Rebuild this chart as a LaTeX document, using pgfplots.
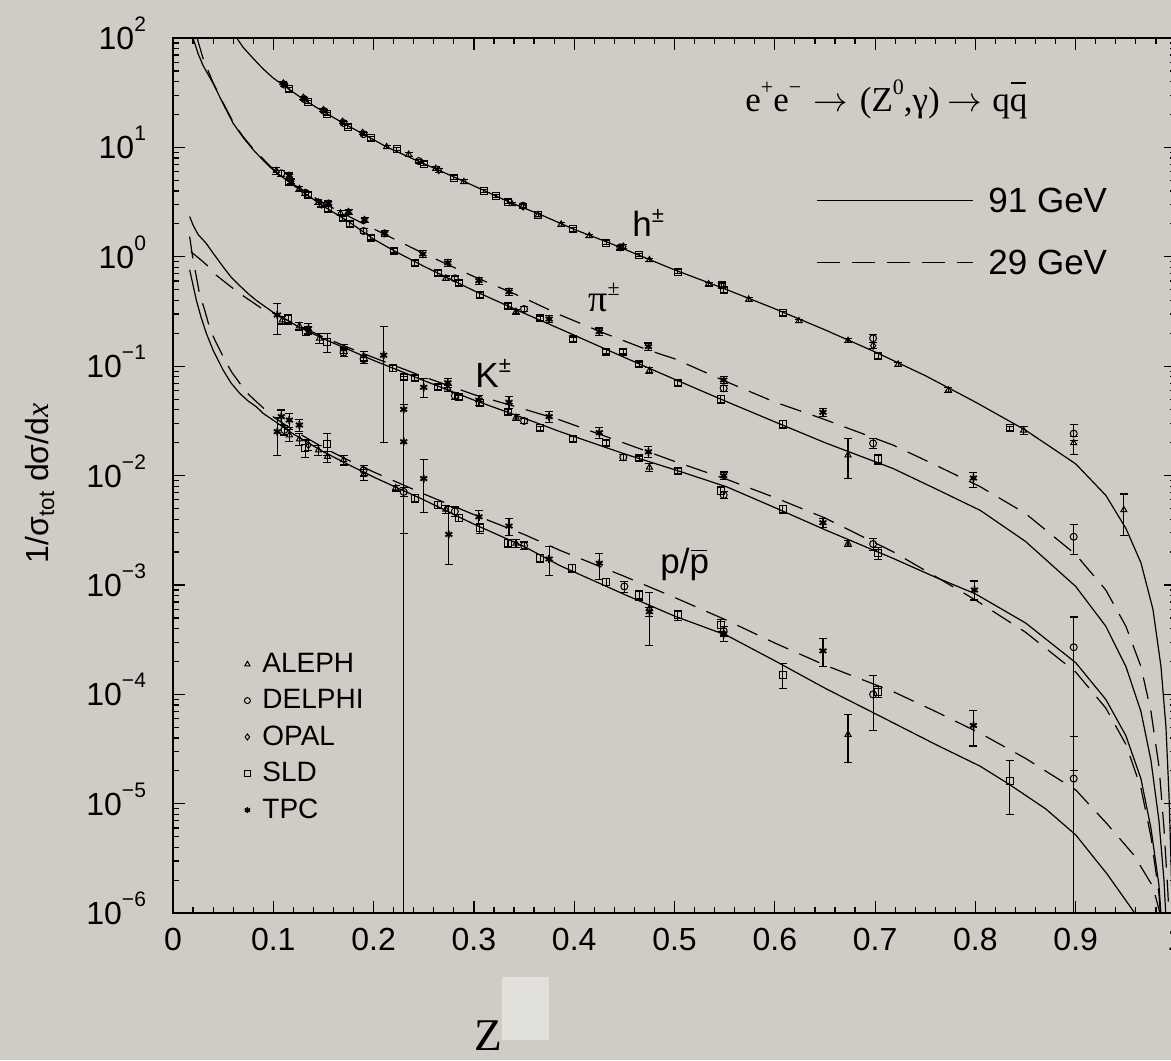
\documentclass[border=0pt]{standalone}
\usepackage{pgfplots}
\pgfplotsset{compat=1.18}
\usepackage{fontspec}
\setmainfont{Liberation Sans}
\newfontfamily\serif{Liberation Serif}
\definecolor{paper}{RGB}{207,204,197}
\definecolor{patch}{RGB}{226,224,219}

% decade label: 10 with a raised exponent in the text font
\newcommand\ytl[1]{10\raisebox{9pt}{\fontsize{10.5}{10.5}\selectfont #1}}
% letter with a bar on top
\newcommand\ovl[2][0.8em]{\ooalign{#2\cr\hidewidth\raisebox{#1}{\rule{0.45em}{0.055em}}\hidewidth\cr}}
\newcommand\rsup[1]{\raisebox{8.5pt}{\fontsize{11}{11}\selectfont #1}}

\pgfplotsset{
  dat/.style={only marks, forget plot, mark size=1.75pt,
    mark options={solid, line width=0.5pt, draw=black, fill=none},
    error bars/y dir=both, error bars/y explicit relative,
    error bars/error bar style={line width=0.55pt, black},
    error bars/error mark options={rotate=90, line width=0.55pt, mark size=2pt}},
  aleph/.style={dat, mark=triangle},
  delphi/.style={dat, mark=o},
  opal/.style={dat, mark=diamond},
  sld/.style={dat, mark=square},
  tpc/.style={dat, mark=asterisk, mark size=2pt, mark options={solid, line width=0.9pt, draw=black}},
  fit91/.style={forget plot, black, solid, line width=0.6pt, no marks},
  fit29/.style={forget plot, black, line width=0.6pt, no marks, dash pattern=on 11pt off 6pt},
  legmark/.style={only marks, mark size=1.5pt, mark options={solid, line width=0.5pt, draw=black, fill=none},
    legend image code/.code={\draw[##1] plot coordinates {(0pt,0pt)};}},
}

\begin{document}
\begin{tikzpicture}
\fill[paper] (-86.5pt,-73.4pt) rectangle (499pt,456.6pt);
\fill[patch] (164.5pt,-63.4pt) rectangle (188pt,-31.9pt);
\begin{axis}[
  scale only axis, width=501.5pt, height=437.6pt,
  xmin=0, xmax=1, ymin=1e-6, ymax=1e2, ymode=log,
  axis line style={line width=0.8pt},
  tick align=inside, major tick length=6pt, minor tick length=3pt,
  every tick/.style={black, line width=0.6pt},
  xtick={0,0.1,0.2,0.3,0.4,0.5,0.6,0.7,0.8,0.9,1},
  xticklabels={0,0.1,0.2,0.3,0.4,0.5,0.6,0.7,0.8,0.9,1},
  minor x tick num=4,
  ytick={1e-6,1e-5,1e-4,1e-3,1e-2,1e-1,1,10,100},
  yticklabels={\ytl{−6},\ytl{−5},\ytl{−4},\ytl{−3},\ytl{−2},\ytl{−1},\ytl{0},\ytl{1},\ytl{2}},
  minor ytick={2e-6,3e-6,4e-6,5e-6,6e-6,7e-6,8e-6,9e-6,
    2e-5,3e-5,4e-5,5e-5,6e-5,7e-5,8e-5,9e-5,
    2e-4,3e-4,4e-4,5e-4,6e-4,7e-4,8e-4,9e-4,
    2e-3,3e-3,4e-3,5e-3,6e-3,7e-3,8e-3,9e-3,
    2e-2,3e-2,4e-2,5e-2,6e-2,7e-2,8e-2,9e-2,
    0.2,0.3,0.4,0.5,0.6,0.7,0.8,0.9,
    2,3,4,5,6,7,8,9,20,30,40,50,60,70,80,90},
  tick label style={font=\fontsize{16}{19}\selectfont},
  xticklabel style={yshift=-4pt},
  yticklabel style={anchor=base east, yshift=-5.75pt, xshift=-10pt},
  legend style={at={(0.0648,0.3044)}, anchor=north west, draw=none, fill=none,
    font=\fontsize{14}{16}\selectfont, row sep=5pt, column sep=5pt,
    nodes={inner sep=1pt}},
  legend cell align=left,
]
\addlegendimage{legmark, mark=triangle}
\addlegendimage{legmark, mark=o}
\addlegendimage{legmark, mark=diamond}
\addlegendimage{legmark, mark=square}
\addlegendimage{legmark, mark=asterisk, mark options={solid, line width=0.8pt, draw=black}}
\legend{ALEPH,DELPHI,OPAL,SLD,TPC}

% ---------- model curves, 91 GeV (solid) ----------
% h
\addplot[fit91] coordinates {(0.0635,100)(0.07,82)(0.08,65)(0.09,52)(0.10,43)(0.11,37)(0.13,27.5)(0.15,21.2)(0.17,16.6)(0.19,13.2)(0.213,10.1)(0.24,7.8)(0.27,5.9)(0.30,4.45)(0.334,3.2)(0.37,2.35)(0.40,1.78)(0.435,1.34)(0.465,1.03)(0.50,0.76)(0.55,0.51)(0.60,0.335)(0.65,0.215)(0.70,0.135)(0.75,0.082)(0.80,0.047)(0.85,0.026)(0.90,0.0128)(0.93,0.0066)(0.95,0.0033)(0.965,0.0016)(0.977,0.0006)(0.985,0.00018)(0.99,5e-5)(0.993,1.2e-5)(0.995,3e-6)(0.997,5e-7)};
% pi
\addplot[fit91] coordinates {(0.02,100)(0.025,72)(0.03,56)(0.04,38.5)(0.05,25)(0.06,16.6)(0.07,12.3)(0.08,9.5)(0.09,7.6)(0.10,6.2)(0.12,4.5)(0.15,2.9)(0.175,2.1)(0.20,1.45)(0.22,1.14)(0.25,0.82)(0.30,0.49)(0.35,0.305)(0.386,0.219)(0.43,0.145)(0.47,0.1)(0.50,0.076)(0.552,0.0474)(0.60,0.031)(0.65,0.02)(0.718,0.0116)(0.76,0.0076)(0.805,0.0048)(0.85,0.0025)(0.90,0.00097)(0.93,0.00042)(0.95,0.00018)(0.965,7e-5)(0.975,2.5e-5)(0.983,7e-6)(0.988,2e-6)(0.992,4e-7)};
% K
\addplot[fit91] coordinates {(0.0166,2.33)(0.02,1.95)(0.025,1.6)(0.033,1.33)(0.04,1.08)(0.05,0.81)(0.058,0.65)(0.066,0.55)(0.075,0.46)(0.083,0.40)(0.10,0.31)(0.125,0.23)(0.15,0.178)(0.175,0.142)(0.20,0.113)(0.25,0.074)(0.30,0.049)(0.35,0.0335)(0.386,0.0252)(0.45,0.0158)(0.503,0.0111)(0.552,0.0079)(0.60,0.0051)(0.65,0.0032)(0.718,0.00175)(0.76,0.00118)(0.80,0.00083)(0.85,0.00045)(0.90,0.000195)(0.93,9e-5)(0.95,4.2e-5)(0.965,1.7e-5)(0.975,6e-6)(0.983,1.8e-6)(0.988,4e-7)};
% p
\addplot[fit91] coordinates {(0.0166,0.76)(0.02,0.55)(0.0233,0.40)(0.028,0.28)(0.0332,0.20)(0.04,0.14)(0.05,0.092)(0.058,0.07)(0.0665,0.0565)(0.075,0.048)(0.083,0.0426)(0.09,0.037)(0.0997,0.0322)(0.12,0.024)(0.15,0.0165)(0.175,0.0126)(0.20,0.0097)(0.25,0.006)(0.30,0.0036)(0.35,0.00225)(0.386,0.0015)(0.45,0.00082)(0.50,0.00052)(0.552,0.000347)(0.60,0.000203)(0.65,0.000114)(0.718,5.5e-5)(0.76,3.5e-5)(0.805,2.2e-5)(0.834,1.5e-5)(0.87,9e-6)(0.90,5.2e-6)(0.931,2.3e-6)(0.959,1e-6)(0.97,6e-7)};

% ---------- model curves, 29 GeV (dashed) ----------
% pi
\addplot[fit29] coordinates {(0.024,100)(0.03,65)(0.04,39)(0.05,25.5)(0.06,17)(0.07,12.5)(0.08,9.7)(0.10,6.3)(0.12,4.6)(0.15,3.1)(0.175,2.35)(0.20,1.8)(0.25,1.07)(0.30,0.66)(0.35,0.42)(0.386,0.294)(0.43,0.2)(0.474,0.14)(0.50,0.117)(0.552,0.072)(0.60,0.047)(0.648,0.033)(0.718,0.019)(0.76,0.0125)(0.805,0.0079)(0.85,0.0045)(0.90,0.0019)(0.93,0.0009)(0.95,0.00042)(0.965,0.00018)(0.975,7e-5)(0.983,2.2e-5)(0.988,6e-6)(0.992,1.5e-6)(0.995,3e-7)};
% K
\addplot[fit29] coordinates {(0.018,1.11)(0.027,0.95)(0.035,0.82)(0.043,0.68)(0.0615,0.50)(0.0715,0.43)(0.09,0.33)(0.10,0.305)(0.125,0.235)(0.15,0.185)(0.175,0.148)(0.20,0.12)(0.25,0.08)(0.30,0.055)(0.35,0.0405)(0.386,0.0322)(0.45,0.0198)(0.50,0.0135)(0.552,0.00925)(0.60,0.0063)(0.65,0.0041)(0.718,0.00201)(0.76,0.0012)(0.80,0.00073)(0.85,0.00037)(0.90,0.00016)(0.93,7.5e-5)(0.95,3.5e-5)(0.965,1.4e-5)(0.975,5e-6)(0.983,1.5e-6)(0.988,3.5e-7)};
% p
\addplot[fit29] coordinates {(0.0166,1.53)(0.02,0.935)(0.0226,0.71)(0.0266,0.45)(0.0306,0.35)(0.0372,0.214)(0.0425,0.168)(0.0525,0.11)(0.059,0.087)(0.073,0.058)(0.0814,0.049)(0.0997,0.0345)(0.12,0.026)(0.15,0.018)(0.175,0.0138)(0.20,0.0108)(0.25,0.0068)(0.30,0.0044)(0.35,0.0029)(0.386,0.00207)(0.45,0.0012)(0.50,0.00077)(0.552,0.000476)(0.60,0.000295)(0.65,0.000185)(0.718,0.000106)(0.76,7e-5)(0.805,4.4e-5)(0.85,2.6e-5)(0.90,1.34e-5)(0.931,6.6e-6)(0.958,3.4e-6)(0.977,1.75e-6)(0.984,1e-6)(0.99,4e-7)};

% ---------- ALEPH ----------
\addplot[aleph] table[x=x,y=y,y error plus=ep,y error minus=em] {
x y ep em
0.213 10.1 0.04 0.04
0.235 8.6 0.04 0.04
0.262 6.4 0.04 0.04
0.290 4.85 0.04 0.04
0.338 3.04 0.04 0.04
0.364 2.41 0.04 0.04
0.387 1.98 0.04 0.04
0.415 1.55 0.04 0.04
0.446 1.20 0.04 0.04
0.475 0.935 0.04 0.04
0.534 0.564 0.04 0.04
0.574 0.408 0.04 0.04
0.624 0.259 0.04 0.04
0.673 0.171 0.04 0.04
0.723 0.104 0.04 0.04
0.773 0.0605 0.05 0.05
0.848 0.0259 0.09 0.09
0.898 0.0199 0.05 0.22
0.948 0.00485 0.40 0.42
};
\addplot[aleph] table[x=x,y=y,y error plus=ep,y error minus=em] {
x y ep em
0.103 6.12 0.08 0.08
0.126 4.17 0.05 0.05
0.145 3.15 0.05 0.05
0.167 2.50 0.05 0.05
0.272 0.636 0.05 0.05
0.342 0.315 0.05 0.05
0.475 0.091 0.06 0.06
0.673 0.0154 0.41 0.39
};
\addplot[aleph] table[x=x,y=y,y error plus=ep,y error minus=em] {
x y ep em
0.109 0.264 0.08 0.08
0.126 0.233 0.08 0.08
0.146 0.18 0.10 0.10
0.190 0.124 0.10 0.10
0.274 0.063 0.06 0.06
0.342 0.034 0.06 0.06
0.475 0.0119 0.08 0.08
0.673 0.0024 0.06 0.06
};
\addplot[aleph] table[x=x,y=y,y error plus=ep,y error minus=em] {
x y ep em
0.116 0.0235 0.12 0.12
0.126 0.0215 0.12 0.12
0.145 0.0171 0.10 0.10
0.154 0.0149 0.12 0.12
0.170 0.0139 0.10 0.10
0.190 0.0102 0.12 0.12
0.222 0.0077 0.06 0.06
0.272 0.0049 0.08 0.08
0.342 0.0024 0.08 0.08
0.475 0.000612 0.39 0.54
0.673 0.000043 0.51 0.44
};

% ---------- DELPHI ----------
\addplot[delphi] table[x=x,y=y,y error plus=ep,y error minus=em] {
x y ep em
0.111 37.5 0.03 0.03
0.131 27.6 0.03 0.03
0.151 21.4 0.03 0.03
0.170 16.7 0.03 0.03
0.190 13.2 0.03 0.03
0.245 7.5 0.04 0.04
0.349 2.93 0.04 0.04
0.446 1.22 0.04 0.04
0.698 0.18 0.08 0.08
0.898 0.0242 0.22 0.05
};
\addplot[delphi] table[x=x,y=y,y error plus=ep,y error minus=em] {
x y ep em
0.108 5.8 0.06 0.06
0.132 3.85 0.05 0.05
0.190 1.72 0.05 0.05
0.281 0.636 0.05 0.05
0.350 0.333 0.05 0.05
0.549 0.0628 0.06 0.06
0.698 0.0197 0.10 0.10
0.898 0.00276 0.30 0.31
};
\addplot[delphi] table[x=x,y=y,y error plus=ep,y error minus=em] {
x y ep em
0.170 0.133 0.08 0.08
0.190 0.116 0.08 0.08
0.281 0.0537 0.08 0.08
0.350 0.0316 0.06 0.06
0.449 0.0147 0.07 0.07
0.549 0.00665 0.07 0.07
0.698 0.00237 0.12 0.12
0.898 0.00027 0.89 0.926
};
\addplot[delphi] table[x=x,y=y,y error plus=ep,y error minus=em] {
x y ep em
0.111 0.0261 0.10 0.10
0.190 0.0112 0.10 0.10
0.230 0.0071 0.10 0.10
0.281 0.0047 0.10 0.10
0.350 0.00229 0.08 0.08
0.450 0.00097 0.12 0.12
0.549 0.00038 0.10 0.10
0.698 0.0001 0.48 0.53
0.898 0.000017 1.41 0.99999
};

% ---------- OPAL ----------
\addplot[opal] table[x=x,y=y,y error plus=ep,y error minus=em] {
x y ep em
0.110 38.5 0.03 0.03
0.130 28.5 0.03 0.03
0.150 22.0 0.03 0.03
0.169 17.2 0.03 0.03
0.189 13.6 0.03 0.03
0.265 6.2 0.04 0.04
0.349 2.88 0.04 0.04
0.449 1.24 0.04 0.04
0.547 0.55 0.04 0.04
0.698 0.154 0.06 0.06
};
\addplot[opal] table[x=x,y=y,y error plus=ep,y error minus=em] {
x y ep em
0.118 4.9 0.05 0.05
0.148 3.0 0.05 0.05
};
\addplot[opal] table[x=x,y=y,y error plus=ep,y error minus=em] {
x y ep em
0.135 0.215 0.08 0.08
};
\addplot[opal] table[x=x,y=y,y error plus=ep,y error minus=em] {
x y ep em
0.135 0.019 0.10 0.10
};

% ---------- SLD ----------
\addplot[sld] table[x=x,y=y,y error plus=ep,y error minus=em] {
x y ep em
0.116 34 0.04 0.04
0.135 26 0.04 0.04
0.154 20.2 0.04 0.04
0.174 15.5 0.04 0.04
0.197 12.1 0.04 0.04
0.223 9.67 0.04 0.04
0.250 7.1 0.04 0.04
0.280 5.3 0.04 0.04
0.310 4.0 0.04 0.04
0.322 3.6 0.04 0.04
0.334 3.19 0.04 0.04
0.364 2.41 0.04 0.04
0.399 1.78 0.04 0.04
0.432 1.35 0.04 0.04
0.465 1.04 0.04 0.04
0.503 0.73 0.04 0.04
0.547 0.552 0.06 0.06
0.549 0.50 0.06 0.06
0.608 0.304 0.04 0.04
0.703 0.124 0.06 0.06
0.834 0.0271 0.04 0.04
};
\addplot[sld] table[x=x,y=y,y error plus=ep,y error minus=em] {
x y ep em
0.116 4.8 0.05 0.05
0.135 3.67 0.05 0.05
0.155 2.72 0.05 0.05
0.169 2.25 0.05 0.05
0.176 2.0 0.05 0.05
0.197 1.50 0.05 0.05
0.220 1.14 0.05 0.05
0.241 0.88 0.05 0.05
0.264 0.716 0.05 0.05
0.285 0.58 0.05 0.05
0.306 0.448 0.05 0.05
0.334 0.355 0.05 0.05
0.366 0.274 0.05 0.05
0.399 0.176 0.05 0.05
0.432 0.136 0.05 0.05
0.449 0.136 0.05 0.05
0.465 0.104 0.05 0.05
0.503 0.0708 0.05 0.05
0.546 0.0498 0.08 0.08
0.608 0.0296 0.08 0.08
0.703 0.0142 0.10 0.10
};
\addplot[sld] table[x=x,y=y,y error plus=ep,y error minus=em] {
x y ep em
0.115 0.27 0.10 0.10
0.133 0.207 0.08 0.08
0.154 0.167 0.20 0.20
0.219 0.0957 0.06 0.06
0.230 0.080 0.05 0.05
0.241 0.0786 0.05 0.05
0.264 0.065 0.05 0.05
0.285 0.0519 0.05 0.05
0.306 0.0457 0.05 0.05
0.334 0.038 0.05 0.05
0.366 0.027 0.05 0.05
0.399 0.0216 0.05 0.05
0.432 0.020 0.05 0.05
0.465 0.0144 0.05 0.05
0.503 0.0111 0.05 0.05
0.546 0.00728 0.08 0.08
0.608 0.00492 0.08 0.08
0.703 0.00195 0.12 0.12
};
\addplot[sld] table[x=x,y=y,y error plus=ep,y error minus=em] {
x y ep em
0.132 0.0178 0.20 0.18
0.154 0.0195 0.25 0.22
0.241 0.0062 0.08 0.08
0.264 0.0054 0.08 0.08
0.285 0.0041 0.08 0.08
0.306 0.0033 0.10 0.10
0.334 0.0024 0.08 0.08
0.366 0.00175 0.08 0.08
0.398 0.00142 0.08 0.08
0.432 0.00107 0.08 0.08
0.465 0.00081 0.10 0.10
0.503 0.00053 0.10 0.10
0.546 0.00043 0.12 0.12
0.608 0.000152 0.25 0.25
0.703 0.000106 0.12 0.12
0.834 0.000016 0.56 0.50
};

% ---------- TPC (29 GeV) ----------
\addplot[tpc] table[x=x,y=y,y error plus=ep,y error minus=em] {
x y ep em
0.116 5.51 0.06 0.06
0.155 3.08 0.05 0.05
0.175 2.58 0.05 0.05
0.191 2.17 0.05 0.05
0.211 1.64 0.07 0.07
0.249 1.06 0.07 0.07
0.274 0.88 0.07 0.07
0.305 0.605 0.07 0.07
0.335 0.48 0.07 0.07
0.375 0.27 0.07 0.07
0.425 0.207 0.08 0.08
0.474 0.151 0.08 0.08
0.549 0.0748 0.07 0.07
0.648 0.0379 0.08 0.08
0.798 0.0095 0.13 0.18
};
\addplot[tpc] table[x=x,y=y,y error plus=ep,y error minus=em] {
x y ep em
0.104 0.294 0.28 0.34
0.135 0.22 0.12 0.12
0.170 0.144 0.10 0.10
0.210 0.126 0.83 0.84
0.230 0.0403 0.98 0.99999
0.250 0.0641 0.20 0.20
0.274 0.0706 0.10 0.10
0.305 0.049 0.10 0.10
0.335 0.0468 0.12 0.12
0.375 0.0346 0.12 0.12
0.425 0.0247 0.12 0.12
0.474 0.0165 0.12 0.12
0.549 0.00998 0.08 0.08
0.648 0.00371 0.10 0.10
0.799 0.0009 0.21 0.19
};
\addplot[tpc] table[x=x,y=y,y error plus=ep,y error minus=em] {
x y ep em
0.104 0.0252 0.35 0.39
0.108 0.0346 0.15 0.15
0.116 0.0322 0.15 0.15
0.126 0.029 0.12 0.12
0.230 0.0204 1.19 0.855
0.250 0.0094 0.50 0.51
0.275 0.0029 0.79 0.47
0.305 0.0042 0.15 0.15
0.335 0.00346 0.18 0.18
0.375 0.00173 0.30 0.30
0.425 0.00158 0.24 0.29
0.475 0.00057 0.10 0.10
0.549 0.00036 0.15 0.15
0.648 0.00025 0.30 0.28
0.798 0.000052 0.38 0.35
};
\end{axis}

% process and energy key
\node[anchor=base west, inner sep=0pt, font=\serif\fontsize{17.5}{20}\selectfont] at (286pt,400.6pt)
  {e\rsup{+}e\rsup{−}\hspace{6pt}$\rightarrow$\hspace{6pt}(Z\rsup{0},γ)\hspace{4pt}$\rightarrow$\hspace{5pt}q\ovl{q}};
\draw[line width=0.6pt] (322pt,356.3pt) -- (400pt,356.3pt);
\draw[line width=0.6pt, dash pattern=on 11.5pt off 6pt] (322pt,325.4pt) -- (400pt,325.4pt);
\node[anchor=west, inner sep=0pt, font=\fontsize{17.5}{20}\selectfont] at (407.5pt,356.3pt) {91 GeV};
\node[anchor=west, inner sep=0pt, font=\fontsize{17.5}{20}\selectfont] at (407.5pt,325.4pt) {29 GeV};

% particle labels
\node[anchor=base west, inner sep=0pt, font=\fontsize{17.5}{20}\selectfont] at (229.5pt,338.3pt)
  {h\raisebox{7pt}{\fontsize{11}{11}\selectfont ±}};
\node[anchor=base west, inner sep=0pt, font=\serif\fontsize{19}{22}\selectfont] at (207.5pt,300.6pt)
  {π\raisebox{8.3pt}{\fontsize{11}{11}\selectfont ±}};
\node[anchor=base west, inner sep=0pt, font=\fontsize{17.5}{20}\selectfont] at (151pt,262.6pt)
  {K\raisebox{7.6pt}{\fontsize{11}{11}\selectfont ±}};
\node[anchor=base west, inner sep=0pt, font=\fontsize{17.5}{20}\selectfont] at (243.5pt,170pt)
  {p/\ovl[0.62em]{p}};

% axis titles
\node[rotate=90, inner sep=0pt, font=\fontsize{16}{19}\selectfont] at (-66.5pt,215pt)
  {1/σ\textsubscript{tot} dσ/d{\serif\itshape x}};
\node[anchor=base, inner sep=0pt, font=\serif\fontsize{22.7}{26}\selectfont] at (157.5pt,-68.5pt) {Z};

\pgfresetboundingbox
\path[use as bounding box] (-86.5pt,-73.4pt) rectangle (499pt,456.6pt);
\end{tikzpicture}
\end{document}
